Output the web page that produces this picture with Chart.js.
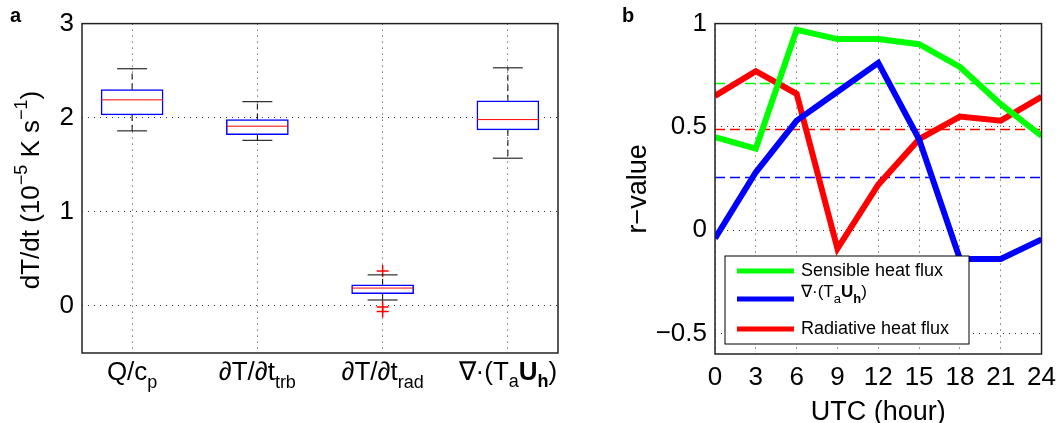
<!DOCTYPE html>
<html><head><meta charset="utf-8">
<script src="https://cdn.jsdelivr.net/npm/chart.js@4"></script>
<style>
body{margin:0;background:#fff;width:1064px;height:423px;overflow:hidden;position:relative;font-family:"Liberation Sans",Arial,sans-serif}
canvas{position:absolute;top:0}
#left{left:0}#right{left:620px}
</style></head><body>
<canvas id="left" width="600" height="423"></canvas>
<canvas id="right" width="444" height="423"></canvas>
<script>
// panel a: box plot statistics (10^-5 K s^-1)
const boxNames=[["Q/c","p"],["∂T/∂t","trb"],["∂T/∂t","rad"],["div"]];
const whiskerLow=[1.86,1.76,0.063,1.57];
const quart1=[2.03,1.82,0.13,1.87];
const medians=[2.19,1.91,0.19,1.98];
const quart3=[2.30,1.98,0.225,2.18];
const whiskerHigh=[2.52,2.17,0.33,2.53];
const outlierX=[3,3,3];
const outlierY=[0.37,-0.01,-0.06];
const boxTicksY=[0,1,2,3];

// panel b: r-values by hour
const hours=[0,3,6,9,12,15,18,21,24];
const sensible=[0.45,0.395,0.97,0.925,0.925,0.90,0.79,0.61,0.456];
const advection=[-0.04,0.28,0.53,0.67,0.81,0.44,-0.14,-0.14,-0.045];
const radiative=[0.65,0.77,0.66,-0.09,0.22,0.44,0.55,0.53,0.645];
const threshold=[0.71,0.255,0.487]; // green, blue, red dashed
const thresholdColors=['#0f0','#00f','#f00'];
const rTicks=[-0.5,0,0.5,1];

const FONT='"Liberation Sans",Arial,sans-serif';
Chart.defaults.font.family=FONT;
Chart.defaults.animation=false;

const gridOpts={color:'#333',lineWidth:1,drawTicks:false};
const borderOpts={display:false,dash:[1,5]};

const frame={
    id:'frame',
    afterDraw(c){
        let a=c.chartArea,ctx=c.ctx;
        ctx.save();ctx.strokeStyle='#222';ctx.lineWidth=1.5;
        ctx.strokeRect(a.left,a.top,a.right-a.left,a.bottom-a.top);
        ctx.restore();
    }
};

function runs(ctx,x,y,parts,align){
    // parts: [text,size,bold,dy]
    let w=0;
    parts.forEach(p=>{ctx.font=(p[2]?'bold ':'')+p[1]+'px '+FONT;w+=ctx.measureText(p[0]).width;});
    let cx=align==='center'?x-w/2:x;
    parts.forEach(p=>{
        ctx.font=(p[2]?'bold ':'')+p[1]+'px '+FONT;
        ctx.fillText(p[0],cx,y+(p[3]||0));
        cx+=ctx.measureText(p[0]).width;
    });
}
function divParts(big,small){
    return [["∇·(T",big],["a",small,false,7],["U",big,true],["h",small,true,7],[")",big]];
}

const boxDraw={
    id:'boxDraw',
    afterDatasetsDraw(c){
        let ctx=c.ctx,xs=c.scales.x,ys=c.scales.y;
        ctx.save();
        for(let i=0;i<medians.length;i++){
            let x=xs.getPixelForValue(i+1);
            ctx.strokeStyle='#000';ctx.lineWidth=1;
            ctx.setLineDash([6,4]);
            ctx.beginPath();
            ctx.moveTo(x,ys.getPixelForValue(quart3[i]));ctx.lineTo(x,ys.getPixelForValue(whiskerHigh[i]));
            ctx.moveTo(x,ys.getPixelForValue(quart1[i]));ctx.lineTo(x,ys.getPixelForValue(whiskerLow[i]));
            ctx.stroke();
            ctx.setLineDash([]);
            ctx.beginPath();
            [whiskerHigh[i],whiskerLow[i]].forEach(v=>{
                let y=ys.getPixelForValue(v);ctx.moveTo(x-15,y);ctx.lineTo(x+15,y);
            });
            ctx.stroke();
            ctx.strokeStyle='#f00';
            let ym=ys.getPixelForValue(medians[i]);
            ctx.beginPath();ctx.moveTo(x-31,ym);ctx.lineTo(x+31,ym);ctx.stroke();
        }
        // tick labels with subscripts
        ctx.fillStyle='#000';ctx.textBaseline='alphabetic';
        boxNames.forEach((n,i)=>{
            let x=xs.getPixelForValue(i+1);
            if(n[0]==='div') runs(ctx,x,380,divParts(26,18),'center');
            else runs(ctx,x,380,[[n[0],26],[n[1],18,false,8]],'center');
        });
        // axis title
        ctx.translate(32,190);ctx.rotate(-Math.PI/2);
        ctx.textBaseline='middle';
        runs(ctx,0,0,[["dT/dt (10",26],["−5",18,false,-10],[" K s",26],["−1",18,false,-10],[")",26]],'center');
        ctx.restore();
        ctx.save();ctx.font='bold 20px '+FONT;ctx.fillText('a',10,22);ctx.restore();
    }
};

new Chart(document.getElementById('left'),{
    data:{datasets:[
        {type:'bar',data:medians.map((m,i)=>({x:i+1,y:[quart1[i],quart3[i]]})),
         backgroundColor:'#fff',borderColor:'#00f',borderWidth:1.5,borderSkipped:false,barThickness:62},
        {type:'scatter',data:outlierX.map((x,i)=>({x:x,y:outlierY[i]})),
         pointStyle:'cross',pointRadius:6,borderColor:'#f00',borderWidth:1.5}
    ]},
    options:{responsive:false,
        layout:{padding:{top:23,right:42}},
        plugins:{legend:{display:false},tooltip:{enabled:false}},
        scales:{
            x:{type:'linear',offset:false,min:0.6,max:4.4,grid:{...gridOpts,offset:false},border:borderOpts,
               afterBuildTicks:s=>{s.ticks=[1,2,3,4].map(v=>({value:v}));},
               ticks:{display:false},afterFit:s=>{s.height=70;}},
            y:{min:-0.5,max:3,grid:gridOpts,border:borderOpts,
               afterBuildTicks:s=>{s.ticks=boxTicksY.map(v=>({value:v}));},
               ticks:{color:'#000',font:{size:26},padding:8},afterFit:s=>{s.width=82;}}
        }},
    plugins:[frame,boxDraw]
});

const thresholdDraw={
    id:'thresholdDraw',
    beforeDatasetsDraw(c){
        let ctx=c.ctx,a=c.chartArea,ys=c.scales.y;
        ctx.save();ctx.lineWidth=1.5;ctx.setLineDash([10,5]);
        threshold.forEach((v,i)=>{
            let y=ys.getPixelForValue(v);
            ctx.strokeStyle=thresholdColors[i];
            ctx.beginPath();ctx.moveTo(a.left,y);ctx.lineTo(a.right,y);ctx.stroke();
        });
        ctx.restore();
    }
};

const legendDraw={
    id:'legendDraw',
    afterDraw(c){
        let ctx=c.ctx;
        ctx.save();
        ctx.fillStyle='#fff';ctx.fillRect(105,256,244,88);
        ctx.strokeStyle='#000';ctx.lineWidth=1;ctx.strokeRect(105,256,244,88);
        let items=[['#0f0',271],['#00f',299],['#f00',329]];
        ctx.lineWidth=5;
        items.forEach(it=>{ctx.strokeStyle=it[0];ctx.beginPath();ctx.moveTo(117,it[1]);ctx.lineTo(174,it[1]);ctx.stroke();});
        ctx.fillStyle='#000';ctx.textBaseline='middle';
        runs(ctx,181,271,[["Sensible heat flux",18]]);
        runs(ctx,181,292,divParts(17,13));
        runs(ctx,181,329,[["Radiative heat flux",18]]);
        ctx.font='27px '+FONT;ctx.textBaseline='alphabetic';ctx.textAlign='center';
        ctx.fillText('UTC (hour)',(c.chartArea.left+c.chartArea.right)/2,420);
        ctx.restore();
        ctx.save();ctx.font='bold 20px '+FONT;ctx.fillText('b',2,22);ctx.restore();
    }
};

function series(d,col){
    return {data:hours.map((h,i)=>({x:h,y:d[i]})),borderColor:col,borderWidth:6,pointRadius:0};
}

new Chart(document.getElementById('right'),{
    type:'line',
    data:{datasets:[
        series(sensible,'#0f0'),series(advection,'#00f'),series(radiative,'#f00')
    ]},
    options:{responsive:false,
        layout:{padding:{top:23,right:17}},
        plugins:{legend:{display:false},tooltip:{enabled:false}},
        scales:{
            x:{type:'linear',min:0,max:24,grid:gridOpts,border:borderOpts,
               afterBuildTicks:s=>{s.ticks=hours.map(v=>({value:v}));},
               ticks:{color:'#000',font:{size:26},padding:8},afterFit:s=>{s.height=69;}},
            y:{min:-0.6,max:1,grid:gridOpts,border:borderOpts,
               afterBuildTicks:s=>{s.ticks=rTicks.map(v=>({value:v}));},
               ticks:{color:'#000',font:{size:26},padding:8,callback:v=>v<0?'−'+Math.abs(v):String(v)},
               title:{display:true,text:'r−value',color:'#000',font:{size:27},padding:2},
               afterFit:s=>{s.width=95;}}
        }},
    plugins:[frame,thresholdDraw,legendDraw]
});
</script>
</body></html>
